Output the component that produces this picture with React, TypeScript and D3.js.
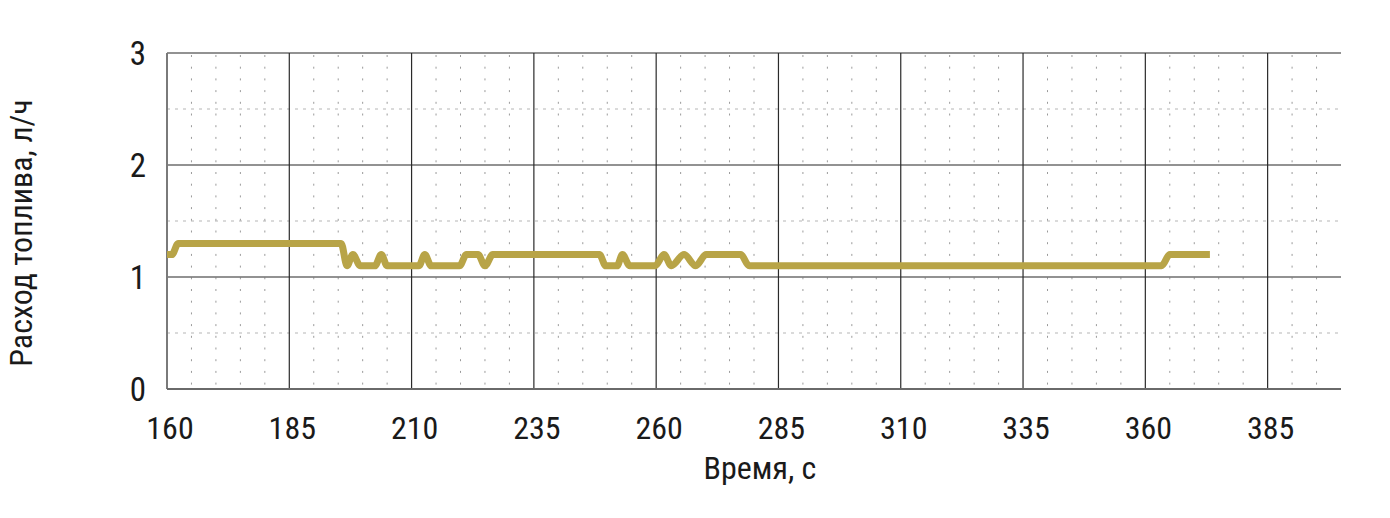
import React from "react";
import * as d3 from "d3";

// Data: time (s) and fuel consumption (l/h)
const times: number[] = [160, 161, 162.3, 195.6, 196.8, 198, 199.5, 202.5, 203.8, 205, 211.5, 212.7, 214, 219.8, 221.2, 223.6, 225, 226.6, 248.4, 249.7, 252, 253.1, 254.6, 259.8, 261.6, 263.1, 265.7, 268.1, 270.2, 277.3, 279, 363.3, 365, 373.2];
const values: number[] = [1.2, 1.2, 1.3, 1.3, 1.1, 1.2, 1.1, 1.1, 1.2, 1.1, 1.1, 1.2, 1.1, 1.1, 1.2, 1.2, 1.1, 1.2, 1.2, 1.1, 1.1, 1.2, 1.1, 1.1, 1.2, 1.1, 1.2, 1.1, 1.2, 1.2, 1.1, 1.1, 1.2, 1.2];

const xTicks: number[] = [160, 185, 210, 235, 260, 285, 310, 335, 360, 385];
const yTicks: number[] = [0, 1, 2, 3];
const xMinor: number[] = d3.range(165, 400, 5).filter((v) => (v - 160) % 25 !== 0);
const yMinor: number[] = [0.5, 1.5, 2.5];

const xLabel = "Время, с";
const yLabel = "Расход топлива, л/ч";

const W = 1390;
const H = 518;
const left = 167;
const right = 1341;
const top = 53;
const bottom = 389;

const FONT = "'Liberation Sans Narrow', 'Roboto Condensed', 'Arial Narrow', Roboto, sans-serif";

export default function App() {
  const x = d3.scaleLinear().domain([160, 400]).range([left, right]);
  const y = d3.scaleLinear().domain([0, 3]).range([bottom, top]);
  const pts: [number, number][] = times.map((t, i) => [t, values[i]]);
  const line = d3
    .line<[number, number]>()
    .x((d) => x(d[0]))
    .y((d) => y(d[1]))
    .curve(d3.curveMonotoneX);

  return (
    <div style={{ position: "fixed", left: 0, top: 0 }}>
      <svg width={W} height={H} style={{ display: "block", background: "#fff" }}>
        {/* minor vertical grid */}
        {xMinor.map((v) => (
          <line key={"xm" + v} x1={x(v)} x2={x(v)} y1={top + 2} y2={bottom} stroke="#9a9a9a" strokeWidth={1} strokeDasharray="2,9.7" />
        ))}
        {/* minor horizontal grid */}
        {yMinor.map((v) => (
          <line key={"ym" + v} x1={left} x2={right} y1={y(v)} y2={y(v)} stroke="#b5b5b5" strokeWidth={1} strokeDasharray="3,5" />
        ))}
        {/* major horizontal grid */}
        {yTicks.filter((v) => v > 0).map((v) => (
          <line key={"yM" + v} x1={left} x2={right} y1={y(v)} y2={y(v)} stroke="#6e6e6e" strokeWidth={1.3} />
        ))}
        {/* major vertical grid */}
        {xTicks.filter((v) => v > 160).map((v) => (
          <line key={"xM" + v} x1={x(v)} x2={x(v)} y1={top} y2={bottom} stroke="#2a2a2a" strokeWidth={1.2} />
        ))}
        {/* axes */}
        <line x1={left} x2={left} y1={top} y2={bottom} stroke="#7a7a7a" strokeWidth={2} />
        <line x1={left} x2={right} y1={bottom} y2={bottom} stroke="#6a6a6a" strokeWidth={2} />

        {/* data line */}
        <path d={line(pts) || ""} fill="none" stroke="#b8a447" strokeWidth={7} strokeLinejoin="round" />

        {/* y tick labels */}
        {yTicks.map((v) => (
          <text key={"yt" + v} x={146} y={y(v)} dy="0.36em" textAnchor="end" fontFamily={FONT} fontSize={33} fill="#1a1a1a">
            {v}
          </text>
        ))}
        {/* x tick labels */}
        {xTicks.map((v) => (
          <text key={"xt" + v} x={x(v) + 3} y={439} textAnchor="middle" fontFamily={FONT} fontSize={32} fill="#1a1a1a">
            {v}
          </text>
        ))}
        {/* axis titles */}
        <text x={760} y={479} textAnchor="middle" fontFamily={FONT} fontSize={32} fill="#1a1a1a">
          {xLabel}
        </text>
        <text transform="translate(32,233) rotate(-90)" textAnchor="middle" fontFamily={FONT} fontSize={32} fill="#1a1a1a">
          {yLabel}
        </text>
      </svg>
    </div>
  );
}
